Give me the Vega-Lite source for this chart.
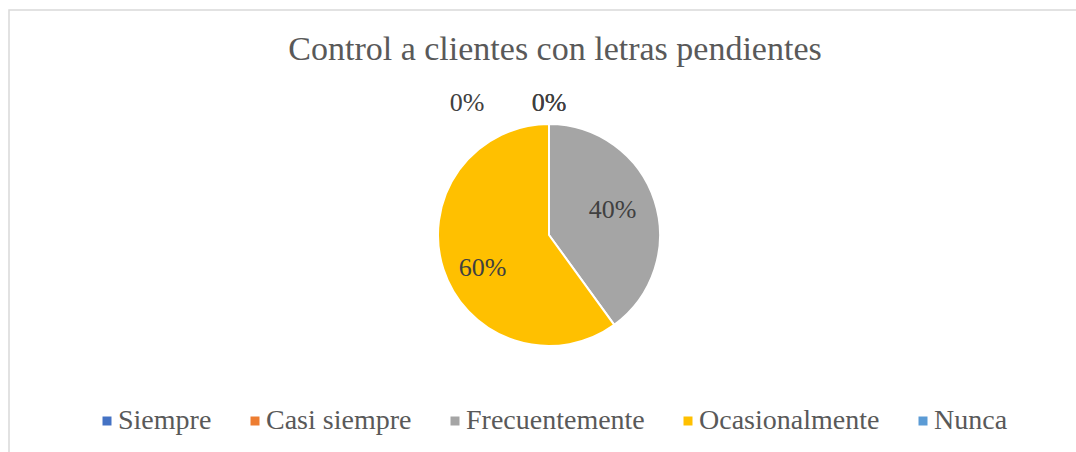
{
  "$schema": "https://vega.github.io/schema/vega-lite/v6.json",
  "autosize": "none",
  "width": 1080,
  "height": 450,
  "padding": {"left": 9, "top": 10, "right": 0, "bottom": 0},
  "background": "white",
  "view": {"stroke": "#D9D9D9", "strokeWidth": 1.5, "fill": "white"},
  "config": {
    "font": "Times New Roman, Liberation Serif, serif"
  },
  "datasets": {
    "respuestas": [
      {"categoria": "Siempre", "porcentaje": 0, "etiqueta": "0%", "orden": 1},
      {"categoria": "Casi siempre", "porcentaje": 0, "etiqueta": "0%", "orden": 2},
      {"categoria": "Frecuentemente", "porcentaje": 40, "etiqueta": "40%", "orden": 3},
      {"categoria": "Ocasionalmente", "porcentaje": 60, "etiqueta": "60%", "orden": 4},
      {"categoria": "Nunca", "porcentaje": 0, "etiqueta": "0%", "orden": 5}
    ],
    "titulo": [
      {"texto": "Control a clientes con letras pendientes"}
    ]
  },
  "layer": [
    {
      "data": {"name": "titulo"},
      "mark": {"type": "text", "fontSize": 34, "font": "Times New Roman, Liberation Serif, serif", "align": "center", "baseline": "alphabetic", "dy": -175, "dx": 6},
      "encoding": {
        "text": {"field": "texto"},
        "color": {"value": "#595959"}
      }
    },
    {
      "data": {"name": "respuestas"},
      "mark": {"type": "arc", "outerRadius": 111, "stroke": "white", "strokeWidth": 2},
      "encoding": {
        "theta": {"field": "porcentaje", "type": "quantitative", "stack": true},
        "order": {"field": "orden", "type": "quantitative", "sort": "ascending"},
        "color": {
          "field": "categoria",
          "type": "nominal",
          "scale": {
            "domain": ["Siempre", "Casi siempre", "Frecuentemente", "Ocasionalmente", "Nunca"],
            "range": ["#4472C4", "#ED7D31", "#A5A5A5", "#FFC000", "#5B9BD5"]
          },
          "legend": {
            "orient": "none",
            "legendX": 84,
            "legendY": 397,
            "direction": "horizontal",
            "columns": 5,
            "title": null,
            "symbolType": "square",
            "symbolSize": 81,
            "symbolStrokeWidth": 0,
            "labelFont": "Times New Roman, Liberation Serif, serif",
            "labelFontSize": 28,
            "labelColor": "#595959",
            "labelOffset": -3,
            "labelLimit": 400,
            "columnPadding": 29,
            "padding": 0
          }
        }
      }
    },
    {
      "data": {"name": "respuestas"},
      "mark": {"type": "text", "radius": 70, "dx": -3, "dy": -3, "fontSize": 26, "font": "Times New Roman, Liberation Serif, serif", "align": "center", "baseline": "middle"},
      "encoding": {
        "theta": {"field": "porcentaje", "type": "quantitative", "stack": true},
        "order": {"field": "orden", "type": "quantitative", "sort": "ascending"},
        "text": {"condition": {"test": "datum.categoria == 'Frecuentemente'", "field": "etiqueta"}, "value": ""},
        "color": {"value": "#404040"}
      }
    },
    {
      "data": {"name": "respuestas"},
      "mark": {"type": "text", "radius": 72, "dx": 2, "dy": 11, "fontSize": 26, "font": "Times New Roman, Liberation Serif, serif", "align": "center", "baseline": "middle"},
      "encoding": {
        "theta": {"field": "porcentaje", "type": "quantitative", "stack": true},
        "order": {"field": "orden", "type": "quantitative", "sort": "ascending"},
        "text": {"condition": {"test": "datum.categoria == 'Ocasionalmente'", "field": "etiqueta"}, "value": ""},
        "color": {"value": "#404040"}
      }
    },
    {
      "data": {"name": "respuestas"},
      "mark": {"type": "text", "radius": 132, "fontSize": 26, "font": "Times New Roman, Liberation Serif, serif", "align": "center", "baseline": "middle"},
      "encoding": {
        "theta": {"field": "porcentaje", "type": "quantitative", "stack": true},
        "order": {"field": "orden", "type": "quantitative", "sort": "ascending"},
        "text": {"condition": {"test": "datum.categoria == 'Casi siempre' || datum.categoria == 'Nunca'", "field": "etiqueta"}, "value": ""},
        "color": {"value": "#404040"}
      }
    },
    {
      "data": {"name": "respuestas"},
      "mark": {"type": "text", "radius": 132, "dx": -82, "fontSize": 26, "font": "Times New Roman, Liberation Serif, serif", "align": "center", "baseline": "middle"},
      "encoding": {
        "theta": {"field": "porcentaje", "type": "quantitative", "stack": true},
        "order": {"field": "orden", "type": "quantitative", "sort": "ascending"},
        "text": {"condition": {"test": "datum.categoria == 'Siempre'", "field": "etiqueta"}, "value": ""},
        "color": {"value": "#404040"}
      }
    }
  ]
}
